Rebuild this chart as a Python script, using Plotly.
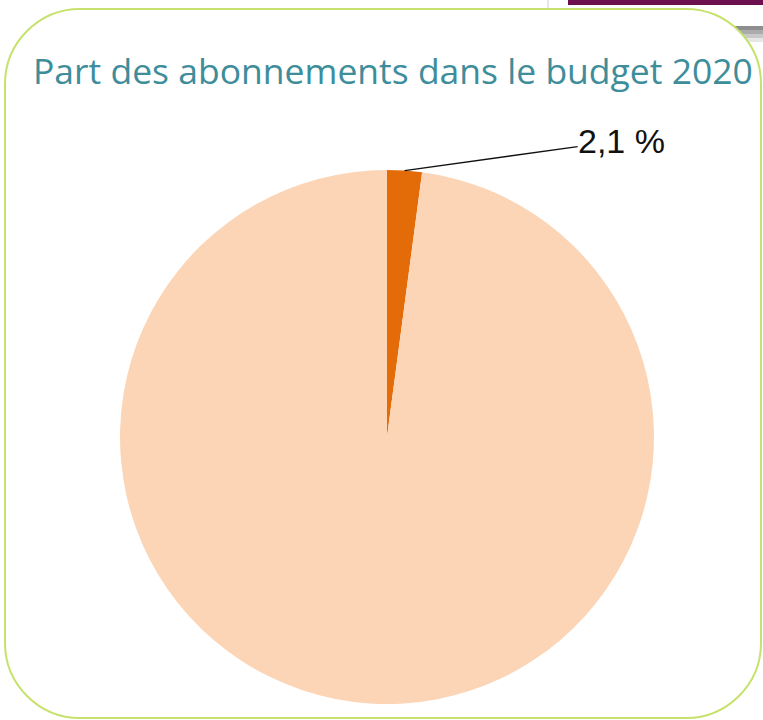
import math
import plotly.graph_objects as go

# ---- data ----
categories = ["Abonnements", "Autres dépenses"]
shares = [2.1, 97.9]
slice_colors = ["#E36C09", "#FBD5B5"]
title_text = "Part des abonnements dans le budget 2020"
label_text = "2,1 %"

W, H = 763, 720


def X(v):  # pixel x -> paper
    return v / W


def Y(v):  # pixel y -> paper
    return 1 - v / H


# pie geometry (pixels)
cx, cy, r = 387, 437, 267

fig = go.Figure()
fig.add_trace(go.Pie(
    labels=categories,
    values=shares,
    sort=False,
    direction="clockwise",
    rotation=0,
    marker=dict(colors=slice_colors, line=dict(width=0)),
    textinfo="none",
    hoverinfo="label+percent",
    showlegend=False,
    domain=dict(x=[X(cx - r), X(cx + r)], y=[Y(cy + r), Y(cy - r)]),
))

# leader-line start: middle of outer arc of the small slice
mid_angle = math.radians(360 * shares[0] / sum(shares) / 2)
px = cx + r * math.sin(mid_angle)
py = cy - r * math.cos(mid_angle)

fig.add_annotation(
    x=X(px), y=Y(py), xref="paper", yref="paper",
    text=label_text, showarrow=True, arrowhead=0, arrowwidth=1.4, arrowcolor="#111111",
    ax=217, ay=-30, standoff=0, borderpad=0,
    font=dict(family="Liberation Sans, Arial", size=34, color="#111111"),
)


def rrect(x0, y0, x1, y1, rad):
    k = 0.45
    return (f"M {X(x0+rad)},{Y(y0)} L {X(x1-rad)},{Y(y0)} "
            f"C {X(x1-rad*k)},{Y(y0)} {X(x1)},{Y(y0+rad*k)} {X(x1)},{Y(y0+rad)} "
            f"L {X(x1)},{Y(y1-rad)} "
            f"C {X(x1)},{Y(y1-rad*k)} {X(x1-rad*k)},{Y(y1)} {X(x1-rad)},{Y(y1)} "
            f"L {X(x0+rad)},{Y(y1)} "
            f"C {X(x0+rad*k)},{Y(y1)} {X(x0)},{Y(y1-rad*k)} {X(x0)},{Y(y1-rad)} "
            f"L {X(x0)},{Y(y0+rad)} "
            f"C {X(x0)},{Y(y0+rad*k)} {X(x0+rad*k)},{Y(y0)} {X(x0+rad)},{Y(y0)} Z")


def box(x0, x1, y0, y1, color):
    return dict(type="rect", xref="paper", yref="paper", x0=X(x0), x1=X(x1), y0=Y(y1), y1=Y(y0),
                fillcolor=color, line=dict(width=0), layer="below")


shapes = [
    box(568, 763, 0, 5, "#6B0F4E"),
    box(547, 549, 0, 16, "#E6E6E6"),
    box(733, 763, 26, 30, "#8E8E8E"),
    box(733, 763, 30, 34, "#ABABAB"),
    box(733, 763, 34, 38, "#C9C9C9"),
    box(733, 763, 38, 42, "#E6E6E6"),
    dict(type="path", xref="paper", yref="paper", path=rrect(5, 9, 761, 718, 75),
         fillcolor="white", line=dict(color="#C6E26C", width=2), layer="below"),
]

fig.update_layout(
    width=W, height=H,
    margin=dict(l=0, r=0, t=0, b=0),
    paper_bgcolor="white", plot_bgcolor="white",
    shapes=shapes,
    title=dict(text=title_text, x=X(33), xanchor="left", y=Y(72), yanchor="middle",
               xref="paper", yref="paper",
               font=dict(family="Open Sans", size=35.5, color="#3D8D9A")),
)

fig.write_html(
    "out.html",
    config={"displayModeBar": False},
    post_script="document.body.style.margin='0';document.body.style.overflow='hidden';",
)
